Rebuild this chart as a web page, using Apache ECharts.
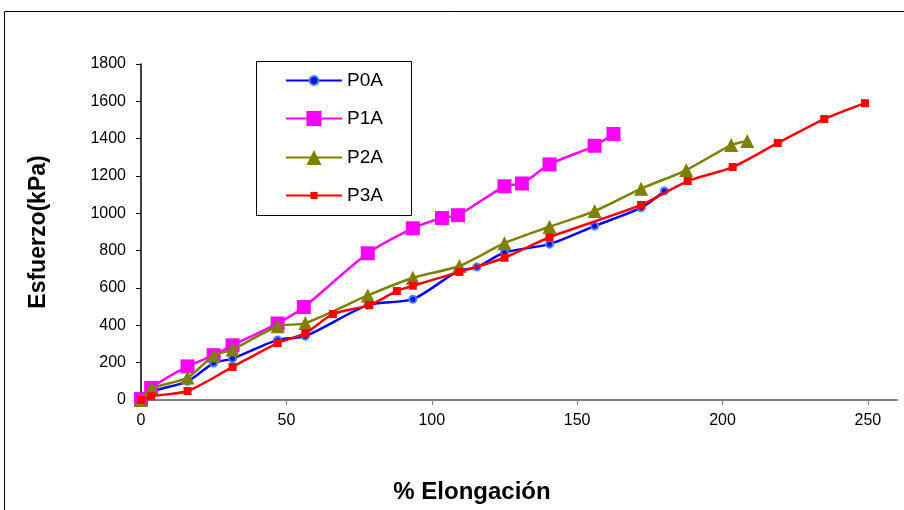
<!DOCTYPE html>
<html>
<head>
<meta charset="utf-8">
<script src="https://cdn.jsdelivr.net/npm/echarts@6/dist/echarts.min.js"></script>
<style>
  html, body { margin: 0; padding: 0; background: #fff; }
  #chart { width: 904px; height: 510px; }
</style>
</head>
<body>
<div id="chart"></div>
<script>
// Stress (kPa) against elongation (%) for four specimens
const seriesNames = ['P0A', 'P1A', 'P2A', 'P3A'];

const p0aElong = [0, 3.5, 16, 25, 31.5, 47, 56.5, 78, 93.5, 109, 115.5, 125, 140.5, 156, 172, 180];
const p0aStress = [0, 45, 100, 198, 222, 322, 342, 508, 540, 690, 712, 790, 835, 932, 1030, 1120];

const p1aElong = [0, 3.5, 16, 25, 31.5, 47, 56, 78, 93.5, 103.5, 109, 125, 131, 140.5, 156, 162.5];
const p1aStress = [5, 65, 180, 240, 293, 410, 498, 786, 920, 975, 990, 1145, 1160, 1262, 1362, 1425];

const p2aElong = [0, 3.5, 16, 25, 31.5, 47, 56.5, 78, 93.5, 109.5, 125, 140.5, 156, 172, 187.5, 203, 208.5];
const p2aStress = [0, 60, 120, 238, 270, 395, 412, 560, 655, 718, 840, 928, 1012, 1132, 1232, 1366, 1388];

const p3aElong = [0, 3.5, 16, 31.5, 47, 56.5, 66, 78.5, 88, 93.5, 109.5, 125, 140.5, 172, 188, 203.5, 219, 235, 249];
const p3aStress = [0, 20, 48, 177, 305, 358, 460, 508, 584, 612, 686, 762, 872, 1045, 1173, 1248, 1377, 1505, 1590];

const xTicks = [0, 50, 100, 150, 200, 250];

const pairs = (xs, ys) => xs.map((x, i) => [x, ys[i]]);

const chart = echarts.init(document.getElementById('chart'), null, { renderer: 'canvas' });

const font = 'Arial, "Liberation Sans", sans-serif';

// One legend per series so that each keeps its own marker size
const legendRows = [
  { name: 'P0A', top: 81, iconH: 11 },
  { name: 'P1A', top: 119, iconH: 19 },
  { name: 'P2A', top: 158, iconH: 19 },
  { name: 'P3A', top: 196, iconH: 9 }
];
const legends = legendRows.map(r => ({
  orient: 'vertical',
  left: 285,
  top: r.top - 10,
  padding: 0,
  itemWidth: 56,
  itemHeight: r.iconH,
  itemGap: 0,
  textStyle: { fontFamily: font, fontSize: 19, color: '#000' },
  data: [r.name]
}));

chart.setOption({
  animation: false,
  backgroundColor: '#ffffff',
  graphic: [
    {
      type: 'rect',
      shape: { x: 4.5, y: 11.5, width: 1200, height: 1200 },
      style: { fill: 'none', stroke: '#000', lineWidth: 1 },
      silent: true,
      z: -10
    },
    {
      type: 'rect',
      shape: { x: 256.5, y: 61.5, width: 155, height: 154 },
      style: { fill: '#fff', stroke: '#000', lineWidth: 1 },
      silent: true,
      z: 0
    }
  ],
  grid: { left: 141, top: 64, right: 7, bottom: 110, containLabel: false },
  legend: legends,
  xAxis: {
    type: 'value',
    min: 0,
    max: 260,
    interval: 50,
    name: '% Elongación',
    nameLocation: 'middle',
    nameGap: 80,
    nameTextStyle: { fontFamily: font, fontSize: 24, fontWeight: 'bold', color: '#000', padding: [0, 94, 0, 0] },
    axisLine: { show: true, lineStyle: { color: '#808080', width: 2 } },
    axisTick: { show: true, inside: false, length: 5, lineStyle: { color: '#808080' }, customValues: xTicks },
    axisLabel: { fontFamily: font, fontSize: 16, color: '#000', margin: 13, customValues: xTicks },
    splitLine: { show: false }
  },
  yAxis: {
    type: 'value',
    min: 0,
    max: 1800,
    interval: 200,
    name: 'Esfuerzo(kPa)',
    nameLocation: 'middle',
    nameGap: 91,
    nameRotate: 90,
    nameTextStyle: { fontFamily: font, fontSize: 23, fontWeight: 'bold', color: '#000' },
    axisLine: { show: true, lineStyle: { color: '#000', width: 1.5 } },
    axisTick: { show: true, inside: false, length: 5, lineStyle: { color: '#000' } },
    axisLabel: { fontFamily: font, fontSize: 16, color: '#000', margin: 15, formatter: v => String(v) },
    splitLine: { show: false }
  },
  series: [
    {
      name: 'P0A',
      type: 'line',
      smooth: 0.25,
      data: pairs(p0aElong, p0aStress),
      symbol: 'circle',
      symbolSize: 7,
      lineStyle: { color: '#0000ff', width: 2.5 },
      itemStyle: { color: '#1010d0', borderColor: '#4a7dff', borderWidth: 2 },
      z: 2
    },
    {
      name: 'P1A',
      type: 'line',
      smooth: 0.25,
      data: pairs(p1aElong, p1aStress),
      symbol: 'rect',
      symbolSize: 14,
      lineStyle: { color: '#ff00ff', width: 2.5 },
      itemStyle: { color: '#ff00ff' },
      z: 3
    },
    {
      name: 'P2A',
      type: 'line',
      smooth: 0.25,
      data: pairs(p2aElong, p2aStress),
      symbol: 'triangle',
      symbolSize: 14,
      lineStyle: { color: '#808000', width: 2.5 },
      itemStyle: { color: '#808000' },
      z: 4
    },
    {
      name: 'P3A',
      type: 'line',
      smooth: 0.25,
      data: pairs(p3aElong, p3aStress),
      symbol: 'rect',
      symbolSize: 8,
      lineStyle: { color: '#ff0000', width: 2.5 },
      itemStyle: { color: '#ff0000' },
      z: 5
    }
  ]
});
</script>
</body>
</html>
